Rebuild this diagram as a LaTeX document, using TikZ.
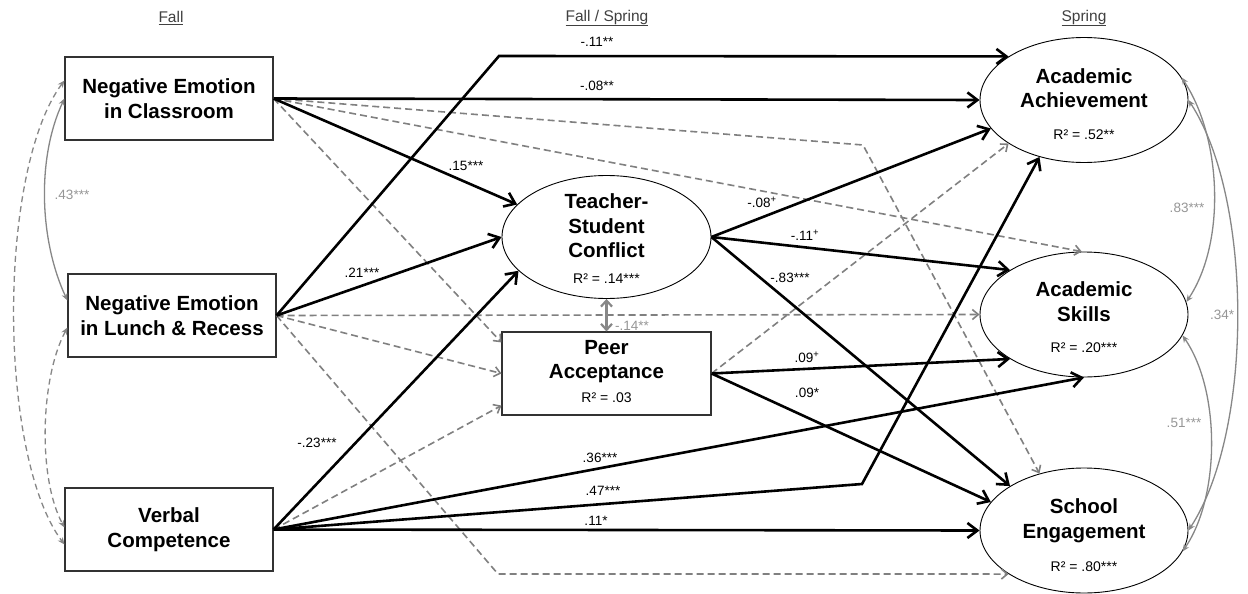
\documentclass[tikz,border=0pt]{standalone}
\usepackage{fontspec}
\setmainfont{Liberation Sans}
\usetikzlibrary{arrows.meta,calc,shapes.geometric}
\definecolor{dgray}{RGB}{128,128,128}
\definecolor{cgray}{RGB}{135,135,135}
\definecolor{labgray}{RGB}{150,150,150}
\definecolor{bordergray}{RGB}{50,50,50}
\begin{document}
\begin{tikzpicture}[x=1pt,y=-1pt,
  box/.style={draw=bordergray, line width=1.1pt, rectangle, minimum width=208pt, minimum height=83pt, inner sep=0pt, fill=white, align=center, font=\fontsize{20.5}{24.5}\selectfont\bfseries},
  ell/.style={draw=black, line width=0.9pt, ellipse, minimum width=208pt, minimum height=125pt, inner sep=0pt, fill=white},
  big/.style={font=\fontsize{20.5}{24.5}\selectfont\bfseries, align=center, inner sep=0pt},
  rsq/.style={font=\fontsize{14}{16}\selectfont, inner sep=0pt},
  lab/.style={font=\fontsize{13.5}{16}\selectfont, inner sep=0pt},
  glab/.style={font=\fontsize{13.5}{16}\selectfont, text=labgray, inner sep=0pt},
  head/.style={font=\fontsize{15.5}{18}\selectfont, text=black!75, inner sep=0pt},
  sarr/.style={draw=black, line width=2.6pt, -{Straight Barb[length=10pt,width=15pt]}},
  darr/.style={draw=dgray, line width=1.6pt, dash pattern=on 7pt off 4pt, -{Straight Barb[length=6pt,width=10pt]}},
  corr/.style={draw=cgray, line width=1.3pt, {Stealth[length=7pt,width=6pt]}-{Stealth[length=7pt,width=6pt]}},
  dcorr/.style={corr, dash pattern=on 6pt off 4pt},
  tpa/.style={draw=cgray, line width=2.2pt, {Straight Barb[length=6pt,width=11pt]}-{Straight Barb[length=6pt,width=11pt]}}
]
\useasboundingbox (0,0) rectangle (1248,594);
\fill[white] (0,0) rectangle (1248,594);

% headers
\node[head] (h1) at (171,18) {\underline{Fall}};
\node[head] (h2) at (607,18) {\underline{Fall / Spring}};
\node[head] (h3) at (1084,18) {\underline{Spring}};

% shapes
\node[box] (nec) at (169,98.5) {Negative Emotion\\in Classroom};
\node[box] (nelr) at (172,315.5) {Negative Emotion\\in Lunch \& Recess};
\node[box] (vc) at (169,529.5) {Verbal\\Competence};
\node[ell, minimum width=209pt, minimum height=123pt] (tsc) at (606.5,237) {};
\node[box, minimum width=209pt] (pa) at (606.5,373.5) {};
\node[ell] (ach) at (1084,100) {};
\node[ell] (skl) at (1084,314.5) {};
\node[ell] (eng) at (1084,530.5) {};

% texts inside
\node[big] (tsct) at (606.5,226) {Teacher-\\Student\\Conflict};
\node[rsq] (tscr) at (606.5,279) {R² = .14***};
\node[big] (pat) at (606.5,361.5) {Peer\\Acceptance};
\node[rsq] (par) at (606.5,398) {R² = .03};
\node[big] (acht) at (1084,88) {Academic\\Achievement};
\node[rsq] (achr) at (1084,135) {R² = .52**};
\node[big] (sklt) at (1084,301.5) {Academic\\Skills};
\node[rsq] (sklr) at (1084,348) {R² = .20***};
\node[big] (engt) at (1084,520.5) {School\\Engagement};
\node[rsq] (engr) at (1084,567) {R² = .80***};

% corner coordinates
\coordinate (k1) at (499,56);
\coordinate (k2) at (863,145);
\coordinate (k3) at (498,574);
\coordinate (k4) at (862,484);

% dashed paths
\draw[darr] (nec.east) -- (k2) -- (eng.128);
\draw[darr] (nec.east) -- (skl.92);
\draw[darr] (nec.east) -- ($(pa.north west)+(0,11)$);
\draw[darr] (nelr.east) -- (skl.west);
\draw[darr] (nelr.east) -- (pa.west);
\draw[darr] (nelr.east) -- (k3) -- (eng.210);
\draw[darr] (vc.east) -- ($(pa.south west)+(0,-10)$);
\draw[darr] (pa.east) -- (ach.210);

% solid paths
\draw[sarr] (nelr.east) -- (k1) -- (ach.150);
\draw[sarr] (nec.east) -- (ach.west);
\draw[sarr] (nec.east) -- (tsc.160);
\draw[sarr] (nelr.east) -- (tsc.west);
\draw[sarr] (vc.east) -- (tsc.201);
\draw[sarr] (vc.east) -- (skl.south);
\draw[sarr] (vc.east) -- (k4) -- (ach.232);
\draw[sarr] (vc.east) -- (eng.west);
\draw[sarr] (tsc.east) -- (ach.197);
\draw[sarr] (tsc.east) -- (skl.149);
\draw[sarr] (tsc.east) -- (eng.149);
\draw[sarr] (pa.east) -- (skl.211);
\draw[sarr] (pa.east) -- (eng.163);

% correlations
\draw[tpa] (tsc.south) -- (pa.north);
\draw[corr] (nec.west) .. controls +(-28,60) and +(-28,-60) .. ($(nelr.west)+(0,-15)$);
\draw[dcorr] ($(nec.west)+(0,-18)$) .. controls +(-67,90) and +(-67,-90) .. ($(vc.west)+(0,15)$);
\draw[dcorr] ($(nelr.west)+(0,12)$) .. controls +(-27,50) and +(-27,-50) .. ($(vc.west)+(0,-2)$);
\draw[corr] (ach.13) .. controls +(40,60) and +(40,-60) .. (skl.7);
\draw[corr] (ach.east) .. controls +(65,100) and +(65,-100) .. (eng.east);
\draw[corr] (skl.-12) .. controls +(38,55) and +(38,-55) .. (eng.-12);

% labels
\node[lab] (l1) at (597,42) {-.11**};
\node[lab] (l2) at (597,86) {-.08**};
\node[lab] (l3) at (466,166) {.15***};
\node[lab] (l4) at (362,273) {.21***};
\node[lab] (l5) at (317,443) {-.23***};
\node[lab] (l6) at (762,202) {-.08\textsuperscript{+}};
\node[lab] (l7) at (805,235) {-.11\textsuperscript{+}};
\node[lab] (l8) at (790,278) {-.83***};
\node[glab] (l9) at (632,326) {-.14**};
\node[lab] (l10) at (807,357) {.09\textsuperscript{+}};
\node[lab] (l11) at (807,393) {.09*};
\node[lab] (l12) at (600,458) {.36***};
\node[lab] (l13) at (603,491) {.47***};
\node[lab] (l14) at (596,521) {.11*};
\node[glab] (l15) at (72,195) {.43***};
\node[glab] (l16) at (1187,208) {.83***};
\node[glab] (l17) at (1222,315) {.34*};
\node[glab] (l18) at (1184,423) {.51***};
\end{tikzpicture}
\end{document}
